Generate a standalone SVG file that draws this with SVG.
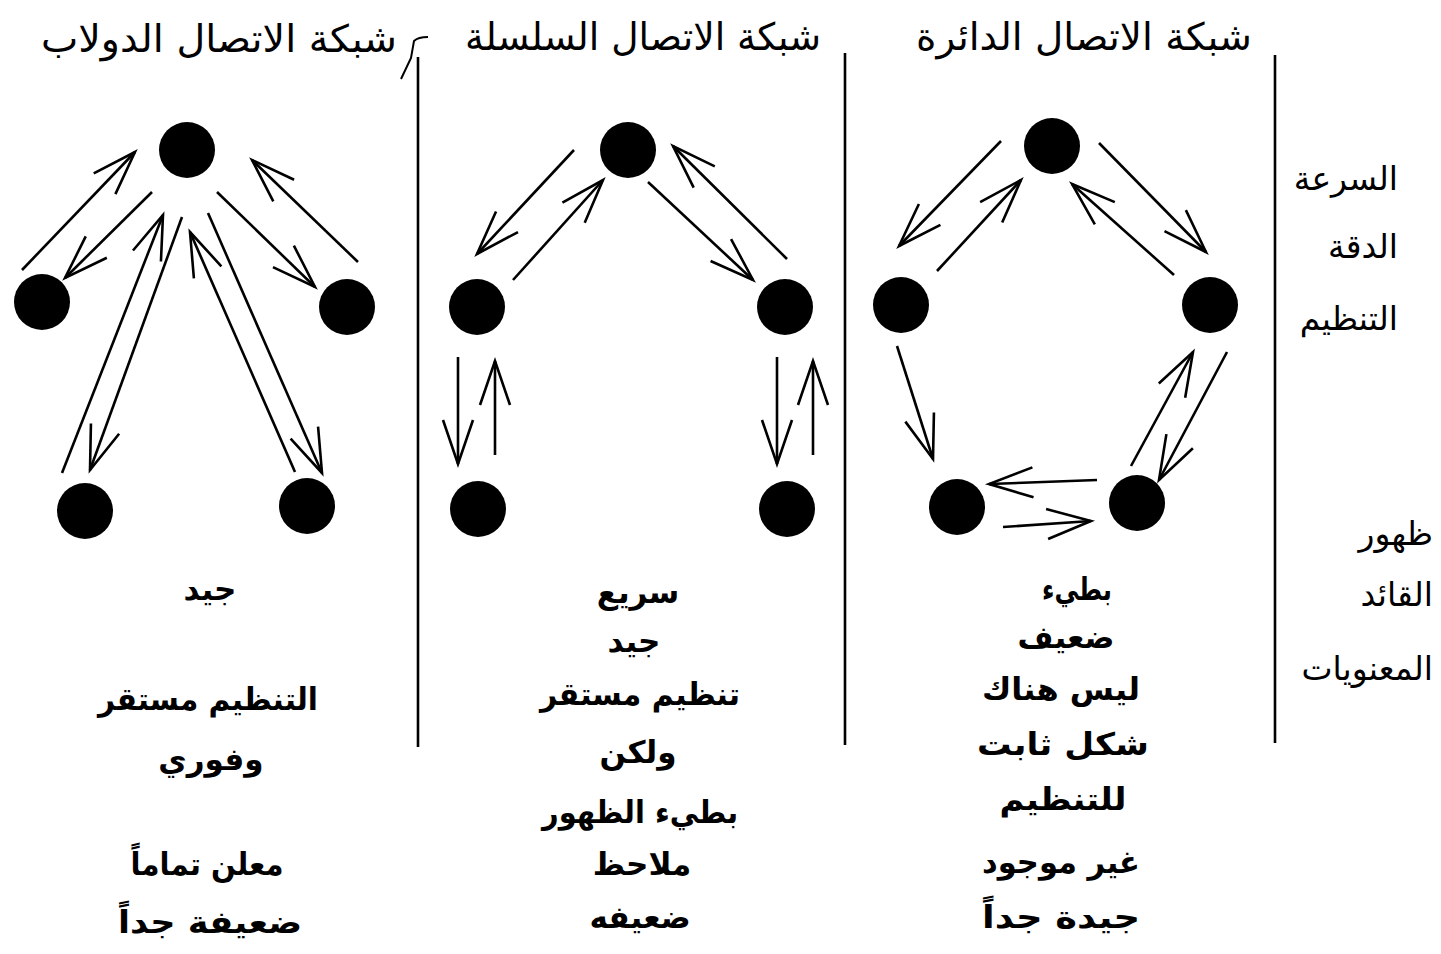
<svg xmlns="http://www.w3.org/2000/svg" width="1441" height="954" viewBox="0 0 1441 954">
<style>
.t{font-family:"DejaVu Sans",sans-serif;fill:#000}
.title{font-size:38px;text-anchor:middle}
.lab{font-size:31px;font-weight:bold;text-anchor:middle}
.side{font-size:33px;text-anchor:end}
.n{fill:#000}
.c line{stroke:#000;stroke-width:2.6;fill:none;marker-end:url(#ah)}
.sep{stroke:#000;stroke-width:2.6}
</style>
<defs>
<marker id="ah" markerUnits="userSpaceOnUse" markerWidth="60" markerHeight="40" viewBox="-50 -20 60 40" refX="0" refY="0" orient="auto">
<path d="M-44,-15 L0,0 L-44,15" fill="none" stroke="#000" stroke-width="2.6" stroke-linejoin="miter"/>
</marker>
</defs>
<rect width="1441" height="954" fill="#fff"/>

<!-- separators -->
<g id="separators">
<line class="sep" x1="418" y1="57" x2="418" y2="747"/>
<line class="sep" x1="845" y1="53" x2="845" y2="745"/>
<line class="sep" x1="1275" y1="55" x2="1275" y2="743"/>
<path d="M401,79 L411,58 L414,41 Q418,37 428,37" fill="none" stroke="#000" stroke-width="2"/>
</g>

<!-- titles -->
<g id="titles">
<text class="t title" x="219" y="52" textLength="356" lengthAdjust="spacingAndGlyphs">شبكة الاتصال الدولاب</text>
<text class="t title" x="643" y="50" textLength="356" lengthAdjust="spacingAndGlyphs">شبكة الاتصال السلسلة</text>
<text class="t title" x="1084" y="50" textLength="336" lengthAdjust="spacingAndGlyphs">شبكة الاتصال الدائرة</text>
</g>

<!-- wheel network nodes -->
<g id="wheel-top"><circle class="n" cx="187" cy="150" r="28"/></g>
<g id="wheel-left"><circle class="n" cx="42" cy="302" r="28"/></g>
<g id="wheel-right"><circle class="n" cx="347" cy="307" r="28"/></g>
<g id="wheel-bottom-left"><circle class="n" cx="85" cy="511" r="28"/></g>
<g id="wheel-bottom-right"><circle class="n" cx="307" cy="506" r="28"/></g>

<!-- chain network nodes -->
<g id="chain-top"><circle class="n" cx="628" cy="150" r="28"/></g>
<g id="chain-left"><circle class="n" cx="477" cy="307" r="28"/></g>
<g id="chain-right"><circle class="n" cx="785" cy="307" r="28"/></g>
<g id="chain-bottom-left"><circle class="n" cx="478" cy="509" r="28"/></g>
<g id="chain-bottom-right"><circle class="n" cx="787" cy="509" r="28"/></g>

<!-- circle network nodes -->
<g id="circle-top"><circle class="n" cx="1052" cy="146" r="28"/></g>
<g id="circle-left"><circle class="n" cx="901" cy="305" r="28"/></g>
<g id="circle-right"><circle class="n" cx="1210" cy="305" r="28"/></g>
<g id="circle-bottom-left"><circle class="n" cx="957" cy="507" r="28"/></g>
<g id="circle-bottom-right"><circle class="n" cx="1137" cy="503" r="28"/></g>

<!-- connectors -->
<g id="connectors" class="c">
<!-- wheel -->
<line x1="22" y1="270" x2="135" y2="152"/>
<line x1="152" y1="192" x2="65" y2="278"/>
<line x1="217" y1="192" x2="315" y2="287"/>
<line x1="358" y1="262" x2="252" y2="160"/>
<line x1="62" y1="473" x2="163" y2="215"/>
<line x1="182" y1="217" x2="90" y2="470"/>
<line x1="295" y1="472" x2="190" y2="232"/>
<line x1="208" y1="213" x2="322" y2="473"/>
<!-- chain -->
<line x1="574" y1="150" x2="477" y2="254"/>
<line x1="513" y1="280" x2="603" y2="180"/>
<line x1="648" y1="182" x2="753" y2="280"/>
<line x1="787" y1="259" x2="673" y2="146"/>
<line x1="458" y1="357" x2="458" y2="464"/>
<line x1="495" y1="455" x2="495" y2="361"/>
<line x1="777" y1="357" x2="777" y2="464"/>
<line x1="813" y1="455" x2="813" y2="361"/>
<!-- circle -->
<line x1="1001" y1="141" x2="899" y2="246"/>
<line x1="937" y1="271" x2="1021" y2="180"/>
<line x1="1099" y1="143" x2="1206" y2="252"/>
<line x1="1174" y1="275" x2="1072" y2="184"/>
<line x1="897" y1="346" x2="933" y2="459"/>
<line x1="1131" y1="466" x2="1193" y2="352"/>
<line x1="1227" y1="352" x2="1159" y2="480"/>
<line x1="1097" y1="480" x2="989" y2="484"/>
<line x1="1003" y1="527" x2="1091" y2="521"/>
</g>

<!-- side labels -->
<g id="criteria">
<text class="t side" x="1398" y="190">السرعة</text>
<text class="t side" x="1398" y="258">الدقة</text>
<text class="t side" x="1398" y="330">التنظيم</text>
<text class="t side" x="1433" y="545">ظهور</text>
<text class="t side" x="1433" y="606">القائد</text>
<text class="t side" x="1433" y="680">المعنويات</text>
</g>

<!-- wheel column labels -->
<g id="wheel-labels">
<text class="t lab" x="210" y="600">جيد</text>
<text class="t lab" x="208" y="710" textLength="220" lengthAdjust="spacingAndGlyphs">التنظيم مستقر</text>
<text class="t lab" x="211" y="770">وفوري</text>
<text class="t lab" x="207" y="875" textLength="153" lengthAdjust="spacingAndGlyphs">معلن تماماً</text>
<text class="t lab" x="210" y="933" textLength="184" lengthAdjust="spacingAndGlyphs">ضعيفة جداً</text>
</g>

<!-- chain column labels -->
<g id="chain-labels">
<text class="t lab" x="638" y="603">سريع</text>
<text class="t lab" x="634" y="652">جيد</text>
<text class="t lab" x="640" y="705" textLength="200" lengthAdjust="spacingAndGlyphs">تنظيم مستقر</text>
<text class="t lab" x="638" y="763">ولكن</text>
<text class="t lab" x="640" y="823" textLength="196" lengthAdjust="spacingAndGlyphs">بطيء الظهور</text>
<text class="t lab" x="642" y="875">ملاحظ</text>
<text class="t lab" x="640" y="928">ضعيفه</text>
</g>

<!-- circle column labels -->
<g id="circle-labels">
<text class="t lab" x="1077" y="600" textLength="70" lengthAdjust="spacingAndGlyphs">بطيء</text>
<text class="t lab" x="1066" y="648">ضعيف</text>
<text class="t lab" x="1061" y="700" textLength="158" lengthAdjust="spacingAndGlyphs">ليس هناك</text>
<text class="t lab" x="1063" y="755" textLength="172" lengthAdjust="spacingAndGlyphs">شكل ثابت</text>
<text class="t lab" x="1063" y="810" textLength="127" lengthAdjust="spacingAndGlyphs">للتنظيم</text>
<text class="t lab" x="1061" y="873" textLength="158" lengthAdjust="spacingAndGlyphs">غير موجود</text>
<text class="t lab" x="1061" y="928" textLength="158" lengthAdjust="spacingAndGlyphs">جيدة جداً</text>
</g>
</svg>
